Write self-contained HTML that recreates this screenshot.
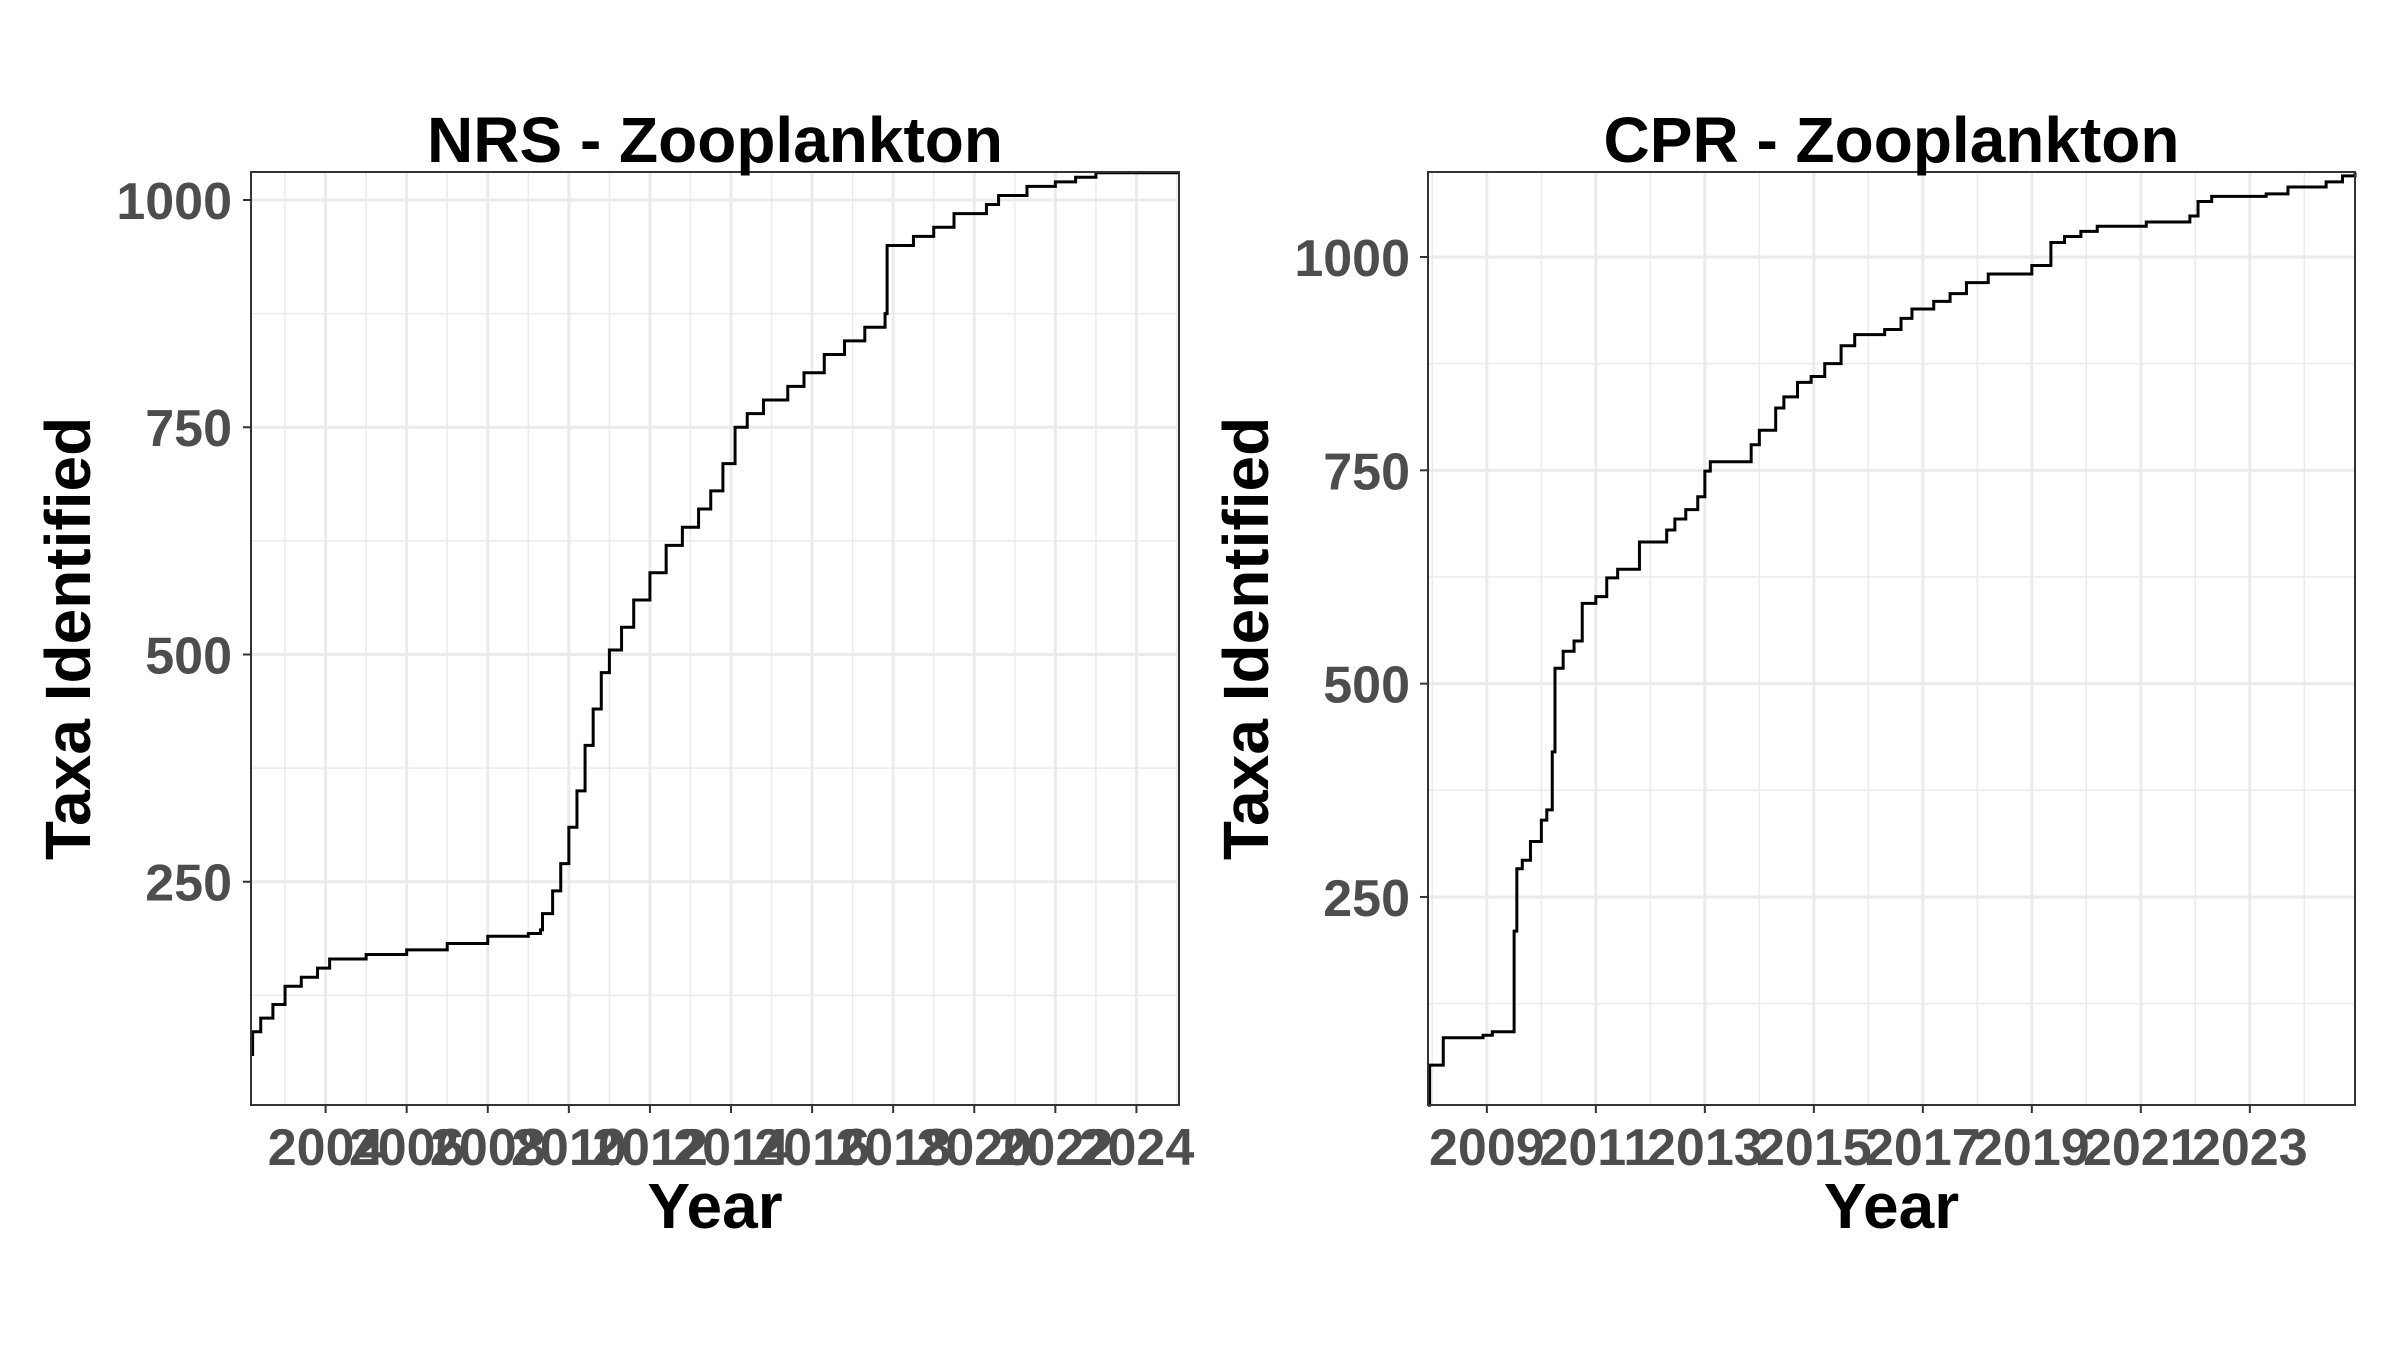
<!DOCTYPE html>
<html><head><meta charset="utf-8"><style>
html,body{margin:0;padding:0;background:#fff;}
svg{display:block;font-family:"Liberation Sans",sans-serif;}
</style></head><body>
<svg id="chart" width="2400" height="1351" xmlns="http://www.w3.org/2000/svg"></svg>
<script>
// NRS data
const nrsYears=[2002.16,2002.2,2002.4,2002.7,2003,2003.4,2003.8,2004.1,2005,2006,2007,2008,2009.0,2009.3,2009.35,2009.6,2009.8,2010,2010.2,2010.4,2010.6,2010.8,2011,2011.3,2011.6,2012,2012.4,2012.8,2013.2,2013.5,2013.8,2014.1,2014.4,2014.8,2015.4,2015.8,2016.3,2016.8,2017.3,2017.8,2017.85,2018.5,2019,2019.5,2020.3,2020.6,2021.3,2022,2022.5,2023,2025.05];
const nrsValues=[60,85,100,115,135,145,155,165,170,175,182,190,193,197,215,240,270,310,350,400,440,480,505,530,560,590,620,640,660,680,710,750,765,780,795,810,830,845,860,875,950,960,970,985,995,1005,1015,1020,1025,1030,1030];
// CPR data
const cprYears=[2007.92,2007.95,2008.2,2008.93,2009.1,2009.5,2009.55,2009.65,2009.8,2010.0,2010.1,2010.2,2010.25,2010.4,2010.6,2010.75,2011,2011.2,2011.4,2011.8,2012.3,2012.45,2012.65,2012.87,2013,2013.1,2013.85,2014,2014.3,2014.45,2014.7,2014.95,2015.2,2015.5,2015.75,2016.3,2016.6,2016.8,2017.2,2017.5,2017.8,2018.2,2019,2019.35,2019.6,2019.9,2020.2,2021.1,2021.9,2022.05,2022.3,2023.3,2023.7,2024.4,2024.7,2024.93];
const cprValues=[6,53,85,88,92,210,283,293,315,340,352,420,518,538,550,594,602,624,634,666,680,693,704,719,749,760,780,797,823,836,853,860,875,896,909,915,928,939,948,957,970,980,990,1017,1024,1030,1036,1041,1048,1065,1071,1074,1082,1088,1095,1099];
const nrsXTicks=[2004,2006,2008,2010,2012,2014,2016,2018,2020,2022,2024];
const cprXTicks=[2009,2011,2013,2015,2017,2019,2021,2023];
const yTicks=[250,500,750,1000];

const NS="http://www.w3.org/2000/svg";
const svg=document.getElementById('chart');
function mk(tag,attrs,parent){const e=document.createElementNS(NS,tag);for(const k in attrs)e.setAttribute(k,attrs[k]);(parent||svg).appendChild(e);return e;}

function panel(cfg){
  const {x0,x1,y0,y1,xmin,xmax,ymin,ymax,xt,years,vals,title,key,ylabX,ytitleX}=cfg;
  const sx=v=>x0+(v-xmin)/(xmax-xmin)*(x1-x0);
  const sy=v=>y1-(v-ymin)/(ymax-ymin)*(y1-y0);
  const g=mk('g',{});
  
  
  const minorX=[];for(let i=0;i<xt.length;i++){minorX.push(xt[i]-(xt[1]-xt[0])/2);}minorX.push(xt[xt.length-1]+(xt[1]-xt[0])/2);
  minorX.forEach(v=>{if(v>xmin&&v<xmax){const l=mk('line',{x1:sx(v),x2:sx(v),y1:y0,y2:y1,stroke:'#ebebeb','stroke-width':1.5},g);
    
    }});
  [125,375,625,875,1125].forEach(v=>{if(v>ymin&&v<ymax){const l=mk('line',{x1:x0,x2:x1,y1:sy(v),y2:sy(v),stroke:'#ebebeb','stroke-width':1.5},g);
    
    }});
  xt.forEach(v=>{const l=mk('line',{x1:sx(v),x2:sx(v),y1:y0,y2:y1,stroke:'#ebebeb','stroke-width':3},g);
    
    
    const t=mk('line',{x1:sx(v),x2:sx(v),y1:y1,y2:y1+8,stroke:'#333','stroke-width':2},g);
    
    
    const tx=mk('text',{x:sx(v),y:y1+60,'text-anchor':'middle','font-size':52,'font-weight':'bold',fill:'#4d4d4d'},g);
    tx.textContent=v;
    
    });
  yTicks.forEach(v=>{const l=mk('line',{x1:x0,x2:x1,y1:sy(v),y2:sy(v),stroke:'#ebebeb','stroke-width':3},g);
    
    
    const t=mk('line',{x1:x0-8,x2:x0,y1:sy(v),y2:sy(v),stroke:'#333','stroke-width':2},g);
    
    
    const tx=mk('text',{x:ylabX,y:sy(v)+19,'text-anchor':'end','font-size':52,'font-weight':'bold',fill:'#4d4d4d'},g);
    tx.textContent=v;
    
    });
  let d='M'+sx(years[0])+','+sy(vals[0]);
  for(let i=1;i<years.length;i++){d+=' H'+sx(years[i])+' V'+sy(vals[i]);}
  const p=mk('path',{d:d,fill:'none',stroke:'#000','stroke-width':3},g);
  
  
  const b=mk('rect',{x:x0,y:y0,width:x1-x0,height:y1-y0,fill:'none',stroke:'#333','stroke-width':2},g);
  
  
  const tt=mk('text',{x:(x0+x1)/2,y:162,'text-anchor':'middle','font-size':64,'font-weight':'bold',fill:'#000'},g);
  tt.textContent=title;
  
  
  const xa=mk('text',{x:(x0+x1)/2,y:1228,'text-anchor':'middle','font-size':64,'font-weight':'bold',fill:'#000'},g);
  xa.textContent='Year';
  
  
  const cy=(y0+y1)/2;
  const ya=mk('text',{x:ytitleX,y:cy,'text-anchor':'middle','font-size':64,'font-weight':'bold',fill:'#000',transform:'rotate(-90 '+ytitleX+' '+cy+')'},g);
  ya.textContent='Taxa Identified';
  
  
}
panel({x0:251,x1:1179,y0:172,y1:1105,xmin:2002.16,xmax:2025.05,ymin:4.4,ymax:1030.8,xt:nrsXTicks,years:nrsYears,vals:nrsValues,title:'NRS - Zooplankton',key:'nrs',ylabX:232,ytitleX:90});
panel({x0:1428,x1:2355,y0:172,y1:1105,xmin:2007.92,xmax:2024.93,ymin:6.2,ymax:1099.6,xt:cprXTicks,years:cprYears,vals:cprValues,title:'CPR - Zooplankton',key:'cpr',ylabX:1410,ytitleX:1268});
</script>
</body></html>
